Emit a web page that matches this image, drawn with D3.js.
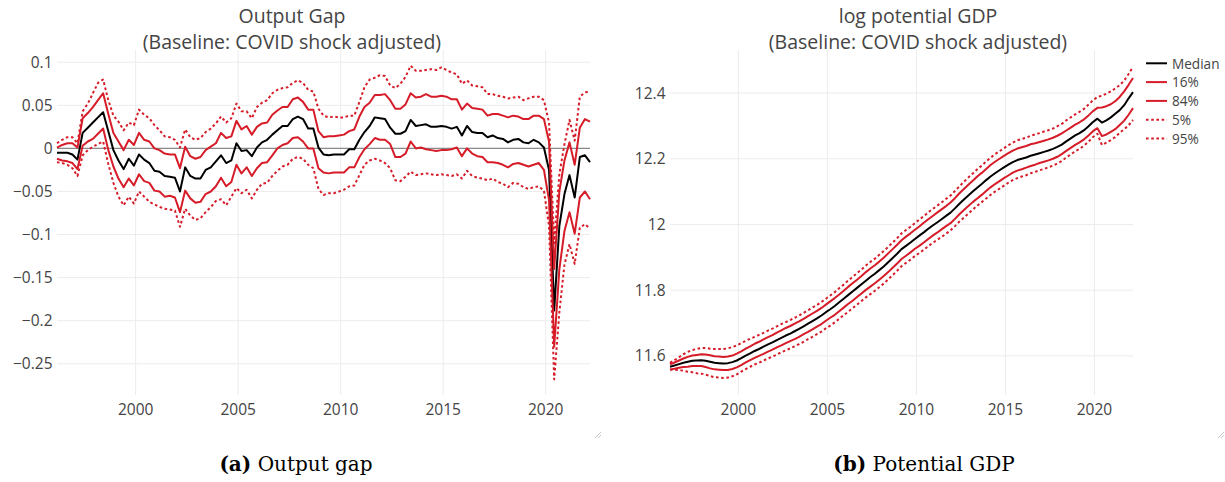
<!DOCTYPE html>
<html><head><meta charset="utf-8">
<script src="https://cdn.jsdelivr.net/npm/d3@7"></script>
<style>body{margin:0;background:#fff}svg{display:block}</style>
</head><body>
<svg id="c" width="1225" height="482"></svg>
<script>
// ---------- data ----------
const firstQuarter = [1996, 2];   // year, month index (March 1996), quarterly observations
const seriesNames = ["Median", "16%", "84%", "5%", "95%"];
const xTickYears = [2000, 2005, 2010, 2015, 2020];
const gapTicks = [0.1, 0.05, 0, -0.05, -0.1, -0.15, -0.2, -0.25];
const potTicks = [11.6, 11.8, 12, 12.2, 12.4];

const gapMedian = [-0.005,-0.005,-0.005,-0.007,-0.013,0.018,0.024,0.030,0.036,0.042,
 0.020,-0.002,-0.014,-0.024,-0.012,-0.020,-0.007,-0.013,-0.017,-0.026,
 -0.027,-0.032,-0.033,-0.034,-0.050,-0.022,-0.032,-0.035,-0.035,-0.025,
 -0.022,-0.015,-0.008,-0.017,-0.014,0.006,-0.003,-0.002,-0.009,0.001,
 0.007,0.010,0.016,0.021,0.026,0.026,0.034,0.037,0.034,0.023,
 0.023,0.001,-0.007,-0.008,-0.007,-0.007,-0.007,-0.001,-0.001,0.010,
 0.019,0.026,0.036,0.035,0.034,0.024,0.017,0.017,0.020,0.033,
 0.026,0.027,0.028,0.025,0.025,0.026,0.025,0.023,0.025,0.015,
 0.026,0.019,0.018,0.018,0.013,0.015,0.012,0.011,0.007,0.010,
 0.011,0.007,0.006,0.010,0.007,0.001,-0.025,-0.188,-0.090,-0.053,
 -0.031,-0.057,-0.010,-0.008,-0.016];
const gapP16 = [-0.012,-0.014,-0.015,-0.017,-0.024,0.003,0.008,0.011,0.017,0.023,
 -0.002,-0.021,-0.035,-0.045,-0.035,-0.043,-0.030,-0.038,-0.040,-0.049,
 -0.050,-0.056,-0.055,-0.057,-0.074,-0.049,-0.058,-0.063,-0.062,-0.053,
 -0.050,-0.044,-0.034,-0.044,-0.039,-0.019,-0.029,-0.022,-0.032,-0.023,
 -0.017,-0.016,-0.008,0.000,0.004,0.006,0.012,0.013,0.008,0.000,
 0.000,-0.023,-0.028,-0.029,-0.028,-0.028,-0.028,-0.022,-0.022,-0.010,
 -0.001,0.005,0.012,0.010,0.010,0.005,-0.010,-0.010,-0.006,0.008,
 0.000,0.001,-0.001,-0.002,-0.003,-0.002,-0.002,-0.001,0.001,-0.009,
 0.000,-0.006,-0.009,-0.010,-0.016,-0.016,-0.017,-0.019,-0.022,-0.018,
 -0.017,-0.019,-0.021,-0.019,-0.017,-0.025,-0.060,-0.230,-0.140,-0.096,
 -0.074,-0.099,-0.057,-0.050,-0.059];
const gapP84 = [0.001,0.004,0.006,0.006,0.001,0.035,0.041,0.048,0.056,0.064,
 0.040,0.018,0.008,-0.002,0.010,0.004,0.018,0.010,0.008,0.000,
 -0.002,-0.006,-0.007,-0.007,-0.023,0.002,-0.009,-0.012,-0.010,-0.002,
 0.002,0.006,0.018,0.012,0.014,0.032,0.022,0.026,0.016,0.025,
 0.029,0.030,0.039,0.044,0.048,0.048,0.057,0.059,0.054,0.045,
 0.045,0.020,0.013,0.014,0.014,0.015,0.016,0.020,0.022,0.037,
 0.048,0.053,0.062,0.062,0.063,0.056,0.046,0.046,0.051,0.064,
 0.059,0.060,0.063,0.060,0.060,0.061,0.060,0.057,0.057,0.045,
 0.052,0.047,0.046,0.045,0.038,0.040,0.040,0.038,0.036,0.038,
 0.037,0.034,0.034,0.038,0.038,0.034,0.008,-0.140,-0.050,-0.014,
 0.007,-0.019,0.024,0.034,0.031];
const gapP5 = [-0.016,-0.017,-0.019,-0.023,-0.032,-0.008,-0.002,0.002,0.005,0.008,
 -0.018,-0.040,-0.056,-0.066,-0.056,-0.064,-0.050,-0.056,-0.062,-0.065,
 -0.068,-0.070,-0.071,-0.072,-0.091,-0.070,-0.078,-0.083,-0.081,-0.074,
 -0.068,-0.061,-0.059,-0.066,-0.056,-0.046,-0.052,-0.048,-0.058,-0.048,
 -0.041,-0.040,-0.032,-0.026,-0.021,-0.019,-0.012,-0.010,-0.012,-0.019,
 -0.023,-0.047,-0.054,-0.052,-0.052,-0.050,-0.048,-0.044,-0.043,-0.031,
 -0.019,-0.014,-0.012,-0.014,-0.017,-0.023,-0.037,-0.038,-0.033,-0.027,
 -0.031,-0.030,-0.029,-0.030,-0.031,-0.030,-0.031,-0.032,-0.030,-0.035,
 -0.026,-0.032,-0.034,-0.035,-0.037,-0.035,-0.039,-0.041,-0.045,-0.040,
 -0.041,-0.045,-0.047,-0.045,-0.044,-0.049,-0.090,-0.268,-0.190,-0.135,
 -0.111,-0.134,-0.092,-0.088,-0.093];
const gapP95 = [0.006,0.010,0.013,0.013,0.006,0.043,0.052,0.064,0.076,0.080,
 0.056,0.038,0.031,0.021,0.030,0.027,0.045,0.039,0.035,0.027,
 0.021,0.014,0.013,0.010,0.001,0.022,0.013,0.010,0.012,0.019,
 0.023,0.029,0.037,0.030,0.035,0.052,0.043,0.043,0.035,0.048,
 0.053,0.056,0.064,0.068,0.070,0.071,0.076,0.079,0.076,0.068,
 0.066,0.046,0.038,0.036,0.037,0.036,0.036,0.038,0.038,0.054,
 0.071,0.080,0.082,0.085,0.084,0.073,0.070,0.075,0.083,0.096,
 0.090,0.090,0.091,0.092,0.091,0.094,0.091,0.088,0.086,0.075,
 0.079,0.073,0.072,0.071,0.063,0.063,0.061,0.060,0.058,0.059,
 0.060,0.056,0.058,0.060,0.060,0.056,0.030,-0.110,-0.030,0.005,
 0.033,0.009,0.060,0.065,0.066];

const potMedian = [11.567,11.571,11.575,11.579,11.582,11.585,11.586,11.587,11.585,11.582,
 11.579,11.578,11.577,11.578,11.581,11.586,11.593,11.601,11.608,11.615,
 11.621,11.628,11.635,11.641,11.648,11.655,11.662,11.668,11.675,11.682,
 11.690,11.698,11.706,11.714,11.723,11.733,11.742,11.752,11.763,11.774,
 11.785,11.796,11.807,11.818,11.829,11.840,11.850,11.861,11.872,11.885,
 11.898,11.911,11.925,11.935,11.945,11.956,11.966,11.976,11.987,11.997,
 12.006,12.016,12.026,12.036,12.049,12.063,12.076,12.088,12.100,12.112,
 12.123,12.135,12.146,12.156,12.165,12.174,12.182,12.190,12.196,12.200,
 12.204,12.209,12.213,12.217,12.221,12.225,12.230,12.236,12.243,12.253,
 12.262,12.271,12.278,12.287,12.299,12.312,12.322,12.310,12.317,12.326,
 12.337,12.348,12.363,12.384,12.403];
const potP16 = [11.559,11.561,11.564,11.566,11.567,11.569,11.569,11.569,11.566,11.562,
 11.559,11.558,11.557,11.557,11.560,11.565,11.572,11.580,11.587,11.594,
 11.600,11.606,11.613,11.619,11.626,11.632,11.639,11.645,11.651,11.658,
 11.666,11.673,11.681,11.689,11.697,11.707,11.716,11.725,11.736,11.747,
 11.758,11.768,11.779,11.790,11.801,11.811,11.821,11.832,11.843,11.855,
 11.868,11.881,11.895,11.905,11.915,11.926,11.935,11.945,11.956,11.966,
 11.975,11.985,11.995,12.004,12.017,12.031,12.044,12.056,12.068,12.079,
 12.090,12.102,12.113,12.123,12.132,12.141,12.149,12.158,12.164,12.168,
 12.173,12.178,12.182,12.187,12.191,12.195,12.200,12.206,12.214,12.224,
 12.233,12.242,12.250,12.259,12.271,12.284,12.293,12.269,12.274,12.282,
 12.290,12.303,12.316,12.334,12.354];
const potP84 = [11.574,11.580,11.586,11.592,11.597,11.601,11.603,11.605,11.604,11.602,
 11.599,11.598,11.597,11.598,11.601,11.607,11.614,11.622,11.629,11.637,
 11.643,11.650,11.657,11.663,11.671,11.678,11.685,11.691,11.698,11.705,
 11.713,11.721,11.729,11.737,11.746,11.756,11.766,11.776,11.787,11.798,
 11.810,11.821,11.832,11.843,11.855,11.866,11.876,11.887,11.899,11.912,
 11.925,11.938,11.952,11.963,11.973,11.984,11.994,12.005,12.016,12.026,
 12.036,12.046,12.056,12.067,12.080,12.095,12.108,12.121,12.133,12.146,
 12.157,12.169,12.181,12.191,12.200,12.209,12.217,12.225,12.231,12.235,
 12.239,12.244,12.247,12.251,12.255,12.259,12.264,12.270,12.277,12.286,
 12.295,12.304,12.311,12.320,12.332,12.345,12.355,12.356,12.360,12.366,
 12.375,12.388,12.405,12.425,12.446];
const potP5 = [11.558,11.558,11.557,11.555,11.552,11.550,11.547,11.546,11.543,11.539,
 11.535,11.534,11.533,11.534,11.538,11.544,11.552,11.560,11.567,11.574,
 11.579,11.586,11.592,11.598,11.604,11.611,11.617,11.623,11.629,11.636,
 11.643,11.651,11.658,11.666,11.674,11.684,11.692,11.702,11.713,11.724,
 11.734,11.745,11.756,11.767,11.778,11.788,11.798,11.809,11.820,11.833,
 11.846,11.859,11.873,11.883,11.893,11.904,11.913,11.923,11.934,11.944,
 11.953,11.962,11.972,11.982,11.995,12.009,12.021,12.033,12.045,12.057,
 12.068,12.079,12.090,12.100,12.109,12.118,12.127,12.135,12.141,12.146,
 12.150,12.156,12.160,12.165,12.169,12.174,12.179,12.186,12.193,12.204,
 12.213,12.223,12.230,12.240,12.252,12.266,12.276,12.242,12.249,12.257,
 12.266,12.279,12.290,12.302,12.318];
const potP95 = [11.579,11.587,11.596,11.605,11.612,11.618,11.621,11.624,11.624,11.622,
 11.621,11.621,11.621,11.623,11.627,11.632,11.639,11.646,11.652,11.658,
 11.664,11.670,11.677,11.683,11.690,11.697,11.703,11.709,11.716,11.723,
 11.731,11.739,11.747,11.755,11.764,11.774,11.784,11.794,11.806,11.817,
 11.829,11.840,11.852,11.863,11.875,11.886,11.896,11.908,11.919,11.932,
 11.945,11.958,11.973,11.983,11.993,12.004,12.015,12.025,12.037,12.047,
 12.057,12.067,12.078,12.088,12.102,12.116,12.130,12.143,12.155,12.168,
 12.179,12.192,12.203,12.214,12.223,12.232,12.241,12.249,12.256,12.260,
 12.264,12.270,12.274,12.278,12.283,12.287,12.292,12.299,12.306,12.317,
 12.326,12.335,12.343,12.352,12.365,12.378,12.388,12.392,12.398,12.405,
 12.414,12.424,12.438,12.458,12.480];

// ---------- drawing ----------
const svg = d3.select("#c");
const FONT = '"Open Sans", verdana, arial, sans-serif';
const RED = "rgb(214,28,40)";
const TXT = "#444";
const dates = gapMedian.map((_, i) => new Date(firstQuarter[0], firstQuarter[1] + 3 * i, 1));
const styles = [
  {color: "#000", dash: null},
  {color: RED, dash: null},
  {color: RED, dash: null},
  {color: RED, dash: "2.6,2.6"},
  {color: RED, dash: "2.6,2.6"}
];
const fmt = v => String(v).replace("-", "\u2212");

function panel(o) {
  const x = d3.scaleTime().domain([dates[0], dates[dates.length - 1]]).range([o.x0, o.x1]);
  const y = d3.scaleLinear().domain(o.yDomain).range([o.y1, o.y0]);
  const g = svg.append("g");
  // grid
  g.selectAll(null).data(o.yTicks).join("line")
    .attr("x1", o.x0).attr("x2", o.x1).attr("y1", d => y(d)).attr("y2", d => y(d))
    .attr("stroke", "#ececec").attr("stroke-width", 1);
  g.selectAll(null).data(xTickYears).join("line")
    .attr("x1", d => x(new Date(d, 0, 1))).attr("x2", d => x(new Date(d, 0, 1)))
    .attr("y1", o.y0).attr("y2", o.y1)
    .attr("stroke", "#ececec").attr("stroke-width", 1);
  if (o.zero) {
    g.append("line").attr("x1", o.x0).attr("x2", o.x1).attr("y1", y(0)).attr("y2", y(0))
      .attr("stroke", "#8a8a8a").attr("stroke-width", 1.2);
  }
  // tick labels
  g.selectAll(null).data(o.yTicks).join("text")
    .attr("x", o.x0 - 4.5).attr("y", d => y(d)).attr("dy", "0.36em")
    .attr("text-anchor", "end").attr("font-family", FONT).attr("font-size", 15.5)
    .attr("fill", TXT).text(fmt);
  g.selectAll(null).data(xTickYears).join("text")
    .attr("x", d => x(new Date(d, 0, 1))).attr("y", 414.5)
    .attr("text-anchor", "middle").attr("font-family", FONT).attr("font-size", 15.5)
    .attr("fill", TXT).text(d => d);
  // lines
  const line = d3.line().x((d, i) => x(dates[i])).y(d => y(d));
  o.series.forEach((s, k) => {
    g.append("path").datum(s).attr("d", line)
      .attr("fill", "none").attr("stroke", styles[k].color).attr("stroke-width", 2)
      .attr("stroke-linejoin", "round")
      .attr("stroke-dasharray", styles[k].dash);
  });
  // title (two separate lines)
  [[o.title[0], 22.6], [o.title[1], 49.3]].forEach(([txt, yy]) => {
    g.append("text").attr("x", o.tx).attr("y", yy).attr("text-anchor", "middle")
      .attr("font-family", FONT).attr("font-size", 19.5).attr("fill", TXT).text(txt);
  });
  // caption
  const c = g.append("text").attr("x", o.cx).attr("y", 471).attr("text-anchor", "middle")
    .attr("font-family", '"DejaVu Serif", serif').attr("font-size", 20).attr("fill", "#000");
  c.append("tspan").attr("font-weight", "bold").text(o.caption[0]);
  c.append("tspan").text(" " + o.caption[1]);
  // resize handle mark
  const h = g.append("g").attr("stroke", "#c8c8c8").attr("stroke-width", 1);
  h.append("line").attr("x1", o.hx - 6).attr("y1", 438).attr("x2", o.hx).attr("y2", 432);
  h.append("line").attr("x1", o.hx - 3).attr("y1", 438).attr("x2", o.hx).attr("y2", 435);
}

panel({
  x0: 57, x1: 590, y0: 50, y1: 395, yDomain: [-0.2862, 0.1142], yTicks: gapTicks, zero: true,
  series: [gapMedian, gapP16, gapP84, gapP5, gapP95],
  title: ["Output Gap", "(Baseline: COVID shock adjusted)"], tx: 292,
  caption: ["(a)", "Output gap"], cx: 296, hx: 601
});
panel({
  x0: 670, x1: 1133, y0: 50, y1: 395, yDomain: [11.481, 12.531], yTicks: potTicks, zero: false,
  series: [potMedian, potP16, potP84, potP5, potP95],
  title: ["log potential GDP", "(Baseline: COVID shock adjusted)"], tx: 918,
  caption: ["(b)", "Potential GDP"], cx: 924, hx: 1224
});

// legend (right panel)
const lg = svg.append("g");
seriesNames.forEach((name, k) => {
  const yy = 63.3 + k * 18.8;
  lg.append("line").attr("x1", 1146).attr("x2", 1167).attr("y1", yy).attr("y2", yy)
    .attr("stroke", styles[k].color).attr("stroke-width", 2).attr("stroke-dasharray", styles[k].dash);
  lg.append("text").attr("x", 1172).attr("y", yy + 5.2).attr("font-family", FONT)
    .attr("font-size", 13.6).attr("fill", TXT).text(name);
});
</script>
</body></html>
